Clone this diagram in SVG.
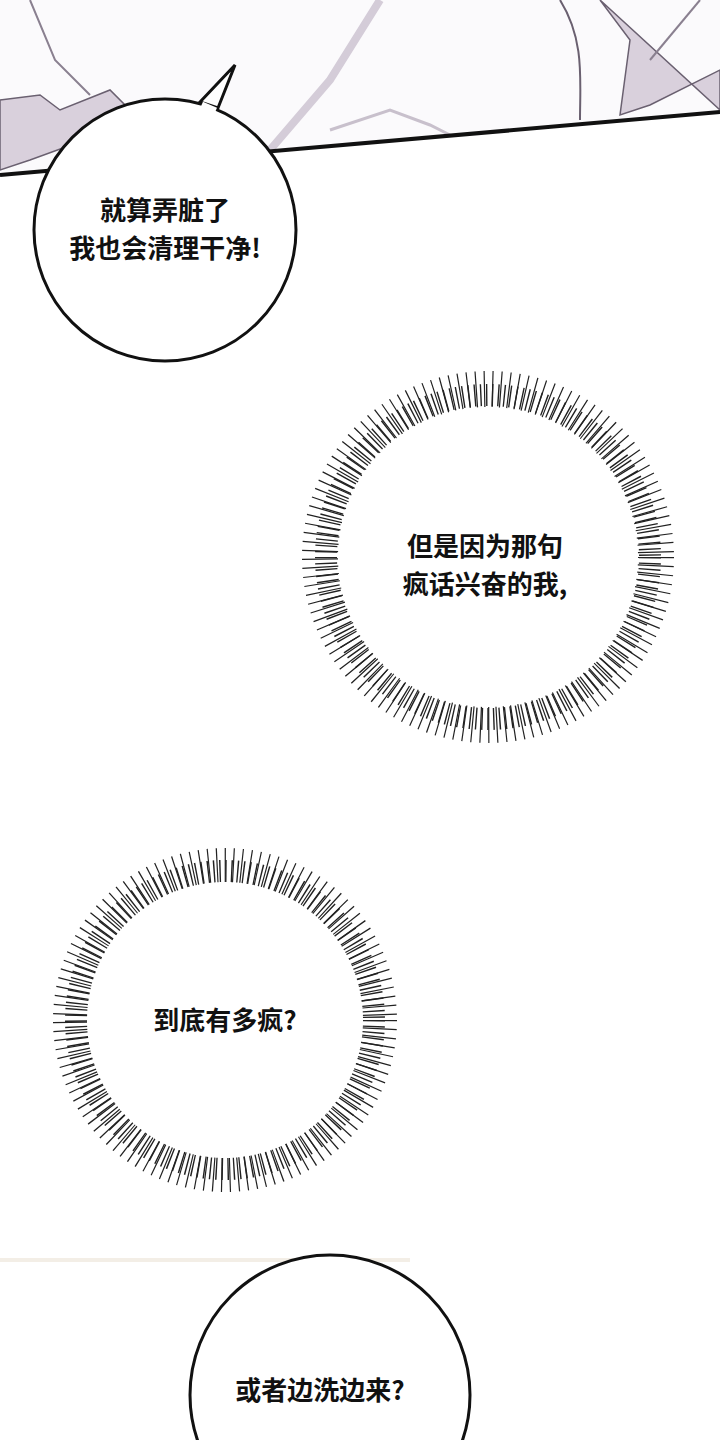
<svg xmlns="http://www.w3.org/2000/svg" width="720" height="1440" viewBox="0 0 720 1440">
<style>
.t{font-family:"Noto Sans CJK SC","Noto Sans",sans-serif;font-size:26px;font-weight:bold;fill:#111;text-anchor:middle}
.sp{fill:none;stroke:#222}
</style>
<rect width="720" height="1440" fill="#fff"/>
<g id="top-panel">
<polygon points="0,0 720,0 720,112 0,175" fill="#fbfafc"/>
<path d="M0,100 L40,95 L60,110 L110,90 L140,120 L30,160 L0,170 Z" fill="#d9d0dc" stroke="#6a6070" stroke-width="1.5"/>
<path d="M30,0 L55,60 L90,95" fill="none" stroke="#8a8090" stroke-width="2"/>
<path d="M270,150 L330,80 L380,0" fill="none" stroke="#d4ccd8" stroke-width="8"/>
<path d="M330,130 L390,110 L430,125 L450,135" fill="none" stroke="#c8c0cc" stroke-width="3"/>
<path d="M560,0 C585,40 580,80 580,120" fill="none" stroke="#6a6070" stroke-width="2"/>
<path d="M600,0 L630,40 L620,115 L650,105 L720,70 L720,110 Z" fill="#d9d0dc" stroke="#6a6070" stroke-width="1.5"/>
<path d="M650,60 L700,0" fill="none" stroke="#8a8090" stroke-width="2"/>
<line x1="0" y1="175" x2="720" y2="112" stroke="#111" stroke-width="4"/>
</g>
<g id="bubble1">
<path d="M200,102 L235,65 L218,108 Z" fill="#fff" stroke="#111" stroke-width="3"/>
<ellipse cx="165" cy="230" rx="131" ry="131" fill="#fff" stroke="#111" stroke-width="3"/>
<path d="M202,104 L216,110" stroke="#fff" stroke-width="5"/>
<text class="t" x="165" y="220">就算弄脏了</text>
<text class="t" x="165" y="258">我也会清理干净!</text>
</g>
<g id="burst1">
<circle class="sp" cx="488" cy="557" r="168" stroke-width="36" stroke-dasharray="1.2 7"/>
<circle class="sp" cx="488" cy="557" r="162" stroke-width="22" stroke-dasharray="1.4 4.5"/>
<text class="t" x="485" y="556">但是因为那句</text>
<text class="t" x="485" y="594">疯话兴奋的我,</text>
</g>
<g id="burst2">
<circle class="sp" cx="225" cy="1020" r="155" stroke-width="34" stroke-dasharray="1.2 7"/>
<circle class="sp" cx="225" cy="1020" r="149" stroke-width="22" stroke-dasharray="1.4 4.5"/>
<text class="t" x="225" y="1030">到底有多疯?</text>
</g>
<line x1="0" y1="1260" x2="410" y2="1260" stroke="#f3eee6" stroke-width="4"/>
<g id="bubble2">
<circle cx="330" cy="1395" r="140" fill="#fff" stroke="#111" stroke-width="3"/>
<text class="t" x="320" y="1400">或者边洗边来?</text>
</g>
</svg>
